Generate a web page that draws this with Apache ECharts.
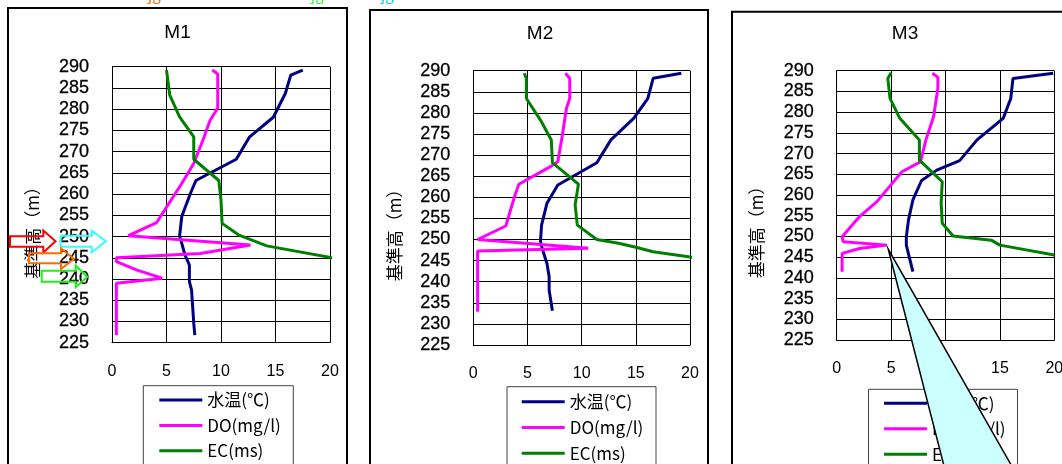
<!DOCTYPE html>
<html><head><meta charset="utf-8">
<script src="https://cdn.jsdelivr.net/npm/echarts@6/dist/echarts.min.js"></script>
<style>html,body{margin:0;padding:0;background:#fff}#c{width:1062px;height:464px}</style>
</head><body><div id="c"></div>
<script>
// ---- data (value, elevation m) ----
const panelTitles = ['M1', 'M2', 'M3'];
const seriesNames = ['水温(℃)', 'DO(mg/l)', 'EC(ms)'];
const yAxisName = '基準高（m）';
const m1Temp = [[17.5,289.2],[16.4,288.0],[15.9,283.7],[14.8,278.1],[12.6,273.4],[11.4,268.2],[7.7,263.2],[7.2,260.2],[6.4,254.7],[6.2,250.1],[6.4,248.4],[6.7,245.6],[7.1,243.3],[7.1,239.4],[7.3,237.4],[7.4,233.5],[7.5,229.6],[7.6,226.8]];
const m1DO = [[9.2,289.2],[9.7,288.3],[9.7,280.2],[9.0,277.4],[8.4,273.1],[7.5,267.2],[6.4,262.5],[4.1,253.3],[1.5,250.2],[12.7,248.0],[8.1,246.0],[0.4,245.0],[0.4,244.1],[2.3,242.1],[4.6,240.2],[0.4,239.0],[0.4,226.8]];
const m1EC = [[5.0,289.2],[5.3,283.3],[6.2,278.2],[7.5,273.5],[7.5,268.2],[9.8,263.2],[10.0,258.6],[10.1,253.1],[11.6,250.4],[14.2,247.8],[20.2,245.0]];
const m2Temp = [[19.2,289.4],[16.6,288.2],[16.1,283.4],[14.8,278.7],[12.7,273.6],[11.4,268.2],[7.8,262.9],[6.8,258.6],[6.3,253.4],[6.2,249.5],[6.4,247.5],[6.8,244.3],[7.0,241.2],[7.0,238.0],[7.3,233.1]];
const m2DO = [[8.5,289.4],[8.9,288.2],[8.9,283.4],[8.6,281.1],[8.2,274.4],[7.8,268.4],[7.2,267.4],[4.2,263.1],[3.8,260.1],[3.0,253.2],[0.4,250.0],[10.6,247.9],[0.4,247.3],[0.4,232.9]];
const m2EC = [[4.7,289.4],[4.9,288.2],[4.9,283.4],[6.2,278.3],[7.2,273.6],[7.3,268.2],[9.7,263.1],[9.4,258.2],[9.6,253.4],[11.4,250.0],[13.4,249.1],[15.1,248.1],[16.6,247.1],[20.2,245.8]];
const m3Temp = [[19.9,289.4],[16.2,288.1],[16.0,283.3],[15.3,278.5],[12.9,273.3],[11.3,268.3],[9.2,266.0],[7.8,263.5],[7.0,258.8],[6.6,254.0],[6.4,249.9],[6.4,247.9],[6.7,244.7],[7.0,241.5]];
const m3DO = [[8.8,289.4],[9.3,288.4],[9.3,285.7],[8.9,278.9],[8.2,273.3],[7.7,268.0],[6.0,265.6],[5.1,262.8],[3.7,258.4],[2.1,254.8],[0.5,249.9],[0.6,248.7],[4.6,247.9],[2.1,247.1],[0.5,245.9],[0.5,241.5]];
const m3EC = [[5.0,289.5],[4.7,288.1],[4.9,283.3],[5.8,278.5],[7.6,273.3],[7.6,268.4],[9.7,263.2],[9.6,258.0],[9.7,253.2],[10.7,250.1],[14.2,249.1],[15.0,247.9],[20.0,245.5]];
const yMin = 225, yMax = 290, yStep = 5;
const xMin = 0, xMax = 20, xStep = 5;

// ---- layout / styles ----
const colors = ['#000080', '#ff00ff', '#008000'];
const grids = [
  {left: 112, top: 66.7, width: 218, height: 276},
  {left: 473.3, top: 70.7, width: 216.7, height: 274.3},
  {left: 836.7, top: 70.7, width: 217.6, height: 269.3}
];
const panelData = [[m1Temp, m1DO, m1EC], [m2Temp, m2DO, m2EC], [m3Temp, m3DO, m3EC]];
const FONT = 'Liberation Sans, Arial, sans-serif';
const CJK = '"Noto Sans CJK JP", "Liberation Sans", sans-serif';

const chart = echarts.init(document.getElementById('c'), null, {renderer: 'canvas'});

const xAxes = [], yAxes = [], series = [];
grids.forEach((g, i) => {
  xAxes.push({
    type: 'value', gridIndex: i, min: xMin, max: xMax, interval: xStep,
    axisLine: {show: true, lineStyle: {color: '#000', width: 1}},
    axisTick: {show: false},
    axisLabel: {margin: 21, fontSize: 16, color: '#000', fontFamily: FONT, hideOverlap: false},
    splitLine: {show: true, lineStyle: {color: '#000', width: 1}}
  });
  yAxes.push({
    type: 'value', gridIndex: i, min: yMin, max: yMax, interval: yStep,
    axisLine: {show: true, lineStyle: {color: '#000', width: 1}},
    axisTick: {show: false},
    axisLabel: {margin: 23, fontSize: 18, color: '#000', fontFamily: FONT, hideOverlap: false,
      textBorderColor: '#000', textBorderWidth: 0.3},
    splitLine: {show: true, lineStyle: {color: '#000', width: 1}}
  });
  panelData[i].forEach((d, k) => {
    series.push({
      type: 'line', name: seriesNames[k], xAxisIndex: i, yAxisIndex: i,
      data: d, showSymbol: false, symbol: 'none', clip: true, silent: true,
      color: colors[k],
      lineStyle: {color: colors[k], width: 3}, z: 3
    });
  });
});

const legendPos = [
  {left: 159.3, top: 391.5, gap: 8.4},
  {left: 521.7, top: 393.2, gap: 8.8},
  {left: 884, top: 394.8, gap: 8.5}
];
const legends = legendPos.map(p => ({
  data: seriesNames, orient: 'vertical', left: p.left, top: p.top, padding: 0,
  itemGap: p.gap, itemWidth: 43, itemHeight: 3, icon: 'rect', selectedMode: false,
  textStyle: {fontSize: 17, lineHeight: 17, color: '#000', fontFamily: CJK}
}));

const panelBoxes = [
  {x: 8, y: 8, w: 339}, {x: 370, y: 10, w: 338}, {x: 732, y: 11.7, w: 400}
];
const legendBoxes = [
  {x: 143.3, y: 385.7, w: 150}, {x: 507, y: 386.7, w: 149}, {x: 868.5, y: 389.3, w: 149}
];
const titlePos = [[177.5, 33], [540, 33.7], [905, 34]];
const namePos = [[33, 228.5], [395, 231], [757, 228]];

function arrow(x0, x1, x2, ys0, ys1, yh0, yh1, yt, color) {
  return {type: 'polygon', z: 50,
    shape: {points: [[x0, ys0], [x1, ys0], [x1, yh0], [x2, yt], [x1, yh1], [x1, ys1], [x0, ys1]]},
    style: {fill: 'none', stroke: color, lineWidth: 2}};
}

const graphics = [];
panelBoxes.forEach(b => graphics.push({type: 'rect', z: -10, shape: {x: b.x, y: b.y, width: b.w, height: 600},
  style: {fill: 'none', stroke: '#000', lineWidth: 2}}));
legendBoxes.forEach(b => graphics.push({type: 'rect', z: -5, shape: {x: b.x, y: b.y, width: b.w, height: 200},
  style: {fill: '#fff', stroke: '#444', lineWidth: 1}}));
titlePos.forEach((p, i) => graphics.push({type: 'text', x: p[0], y: p[1], z: 20,
  style: {text: panelTitles[i], fontSize: 19, fontFamily: FONT, fill: '#000', textAlign: 'center', textVerticalAlign: 'middle'}}));
namePos.forEach(p => graphics.push({type: 'text', x: p[0], y: p[1], rotation: Math.PI / 2, z: 20,
  style: {text: yAxisName, fontSize: 17, fontFamily: CJK, fill: '#000', textAlign: 'center', textVerticalAlign: 'middle'}}));
// cut-off text fragments at the top edge
graphics.push({type: 'text', x: 148, y: 2, z: 20, style: {text: 'jg', fontSize: 15, fontFamily: CJK, fill: '#ff6600', textVerticalAlign: 'bottom'}});
graphics.push({type: 'text', x: 311, y: 2, z: 20, style: {text: 'jg', fontSize: 15, fontFamily: CJK, fill: '#33ee33', textVerticalAlign: 'bottom'}});
graphics.push({type: 'text', x: 381, y: 2, z: 20, style: {text: 'jg', fontSize: 15, fontFamily: CJK, fill: '#00ccff', textVerticalAlign: 'bottom'}});
// arrows on M1
graphics.push(arrow(10, 43.3, 55.5, 236.2, 246.7, 230.5, 252.5, 241.3, '#ff0000'));
graphics.push(arrow(60.7, 91.7, 106, 235.7, 246.7, 230.7, 252.3, 241.3, '#33ffff'));
graphics.push(arrow(29, 61, 74, 253.3, 263.3, 248.3, 269, 259, '#ff6a00'));
graphics.push(arrow(41.7, 75.7, 87.3, 270.7, 281.7, 265.7, 287.3, 276.7, '#22ee22'));
// callout on M3
graphics.push({type: 'polygon', z: 60, shape: {points: [[888.3, 249.3], [947.6, 480], [1019.7, 480]]},
  style: {fill: '#ccffff', stroke: '#000', lineWidth: 1.5}});

chart.setOption({
  animation: false,
  backgroundColor: '#fff',
  grid: grids.map(g => Object.assign({containLabel: false, outerBoundsMode: 'none', show: false}, g)),
  xAxis: xAxes, yAxis: yAxes, series: series,
  legend: legends,
  graphic: {elements: graphics}
});
</script></body></html>
